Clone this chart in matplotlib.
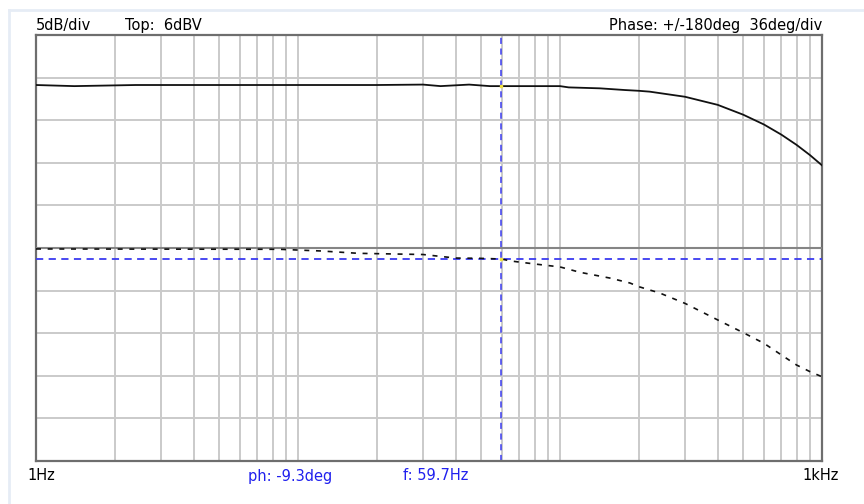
import numpy as np
import matplotlib
matplotlib.use("Agg")
import matplotlib.pyplot as plt
from matplotlib.ticker import LogLocator, NullFormatter

# magnitude trace (dBV)
mag_freq = [1, 1.4, 2.4, 5, 10, 20, 30, 35, 45, 54, 70, 100, 108, 142, 177, 200, 220,
            300, 400, 500, 600, 700, 800, 900, 1000]
mag_db = [0.13, 0.0, 0.13, 0.13, 0.13, 0.13, 0.18, 0.0, 0.18, 0.0, 0.0, 0.0, -0.15, -0.26,
          -0.46, -0.55, -0.65, -1.25, -2.2, -3.35, -4.5, -5.7, -6.9, -8.1, -9.3]

# phase trace (deg)
ph_freq = [1, 8.5, 12.2, 17, 30, 40, 49, 59.7, 65, 80, 100, 119, 155, 185, 200, 240,
           300, 400, 500, 600, 700, 800, 900, 1000]
ph_deg = [-0.8, -1.1, -2.5, -4.5, -5.5, -8.5, -8.7, -9.3, -11, -13.5, -16, -20.5, -25.4,
          -29.6, -32.7, -38, -46.8, -60.8, -71.5, -80.5, -90.4, -98.9, -104.5, -108.8]

# cursor readout
cursor_f = 59.7
cursor_ph = -9.3

top_db = 6
db_per_div = 5

W, H = 864, 504
fig = plt.figure(figsize=(W / 100, H / 100), dpi=100)

def fx(px):
    return px / W

def fy(py):
    return 1 - py / H

# faint outer frame of the window
fig.add_artist(plt.Line2D([fx(9), fx(9)], [fy(10), 0], color="#e6ecf5", lw=2))
fig.add_artist(plt.Line2D([fx(9), 1], [fy(10), fy(10)], color="#e6ecf5", lw=2))

left, right, top, bottom = 36, 822, 35, 461
ax = fig.add_axes([fx(left), fy(bottom), fx(right - left), (bottom - top) / H])

ax.set_xscale("log")
ax.set_xlim(1, 1000)
ax.set_ylim(top_db - 10 * db_per_div, top_db)
ax.xaxis.set_major_locator(LogLocator(base=10))
ax.xaxis.set_minor_locator(LogLocator(base=10, subs=np.arange(2, 10)))
ax.xaxis.set_minor_formatter(NullFormatter())
ax.set_yticks(np.arange(top_db - 10 * db_per_div, top_db + 1, db_per_div))
ax.grid(True, which="both", axis="both", color="#cacaca", lw=1.4)
ax.tick_params(which="both", length=0, labelbottom=False, labelleft=False)
for s in ax.spines.values():
    s.set_color("#6e6e6e")
    s.set_linewidth(1.6)

ax2 = ax.twinx()
ax2.set_ylim(-180, 180)
ax2.set_yticks([])
ax2.axhline(0, color="#858585", lw=1.5, zorder=1)
for s in ax2.spines.values():
    s.set_visible(False)

# cursor lines
ax.axvline(cursor_f, color="#3a3af0", lw=1.1, ls=(0, (4, 3)), zorder=2)
ax2.axhline(cursor_ph, color="#3a3af0", lw=1.3, ls=(0, (4, 3)), zorder=2)

ax.plot(mag_freq, mag_db, color="#111111", lw=1.3, zorder=3)
ax2.plot(ph_freq, ph_deg, color="#111111", lw=1.2, ls=(0, (3, 4)), zorder=3)

ax.plot([cursor_f], [np.interp(np.log10(cursor_f), np.log10(mag_freq), mag_db)],
        "s", color="#f0e040", ms=2, zorder=4)
ax2.plot([cursor_f], [cursor_ph], "s", color="#f0e040", ms=2, zorder=4)

font = "DejaVu Sans"
fs = 10.5
fig.text(fx(36), fy(25.5), "5dB/div", fontsize=fs, family=font, va="center", ha="left")
fig.text(fx(125), fy(25.5), "Top:  " + str(top_db) + "dBV", fontsize=fs, family=font,
         va="center", ha="left")
fig.text(fx(822), fy(25.5), "Phase: +/-180deg  36deg/div", fontsize=fs, family=font,
         va="center", ha="right")

fig.text(fx(41), fy(476), "1Hz", fontsize=fs, family=font, va="center", ha="center")
fig.text(fx(821), fy(476), "1kHz", fontsize=fs, family=font, va="center", ha="center")
fig.text(fx(248), fy(476), "ph: %.1fdeg" % cursor_ph, fontsize=fs, family=font,
         va="center", ha="left", color="#2020ee")
fig.text(fx(403), fy(476), "f: %.1fHz" % cursor_f, fontsize=fs, family=font,
         va="center", ha="left", color="#2020ee")

fig.savefig("out.png", dpi=100, facecolor="white")
